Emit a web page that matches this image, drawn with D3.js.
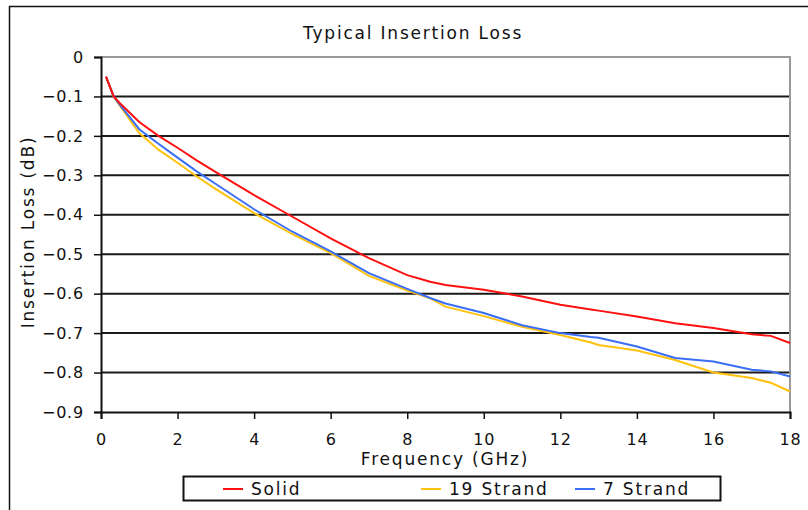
<!DOCTYPE html>
<html>
<head>
<meta charset="utf-8">
<script src="https://cdn.jsdelivr.net/npm/d3@7"></script>
<style>
  body { margin: 0; background: #fff; }
  svg text { font-family: "DejaVu Sans", Verdana, sans-serif; fill: #111; letter-spacing: 1.8px; }
  svg .tick text { letter-spacing: 0.8px; }
</style>
</head>
<body>
<div id="chart"></div>
<script>
// frequencies (GHz) the curves were read at
var freq = [0.13, 0.33, 0.5, 1, 1.5, 2, 2.5, 3, 4, 5, 6, 7, 8, 8.6, 9, 10, 11, 12, 12.8, 13, 14, 15, 16, 17, 17.5, 18];

// insertion loss (dB) per cable type
var solid    = [-0.05, -0.1, -0.118, -0.165, -0.2, -0.23, -0.262, -0.292, -0.35, -0.405, -0.46, -0.51, -0.553, -0.57, -0.578, -0.59, -0.607, -0.628, -0.64, -0.643, -0.658, -0.675, -0.687, -0.703, -0.707, -0.725];
var strand19 = [-0.05, -0.1, -0.125, -0.193, -0.235, -0.268, -0.303, -0.335, -0.396, -0.449, -0.497, -0.555, -0.592, -0.612, -0.633, -0.657, -0.684, -0.705, -0.724, -0.73, -0.744, -0.768, -0.8, -0.814, -0.826, -0.848];
var strand7  = [-0.05, -0.1, -0.122, -0.183, -0.22, -0.255, -0.29, -0.322, -0.386, -0.443, -0.493, -0.548, -0.588, -0.611, -0.625, -0.649, -0.68, -0.70, -0.71, -0.712, -0.734, -0.763, -0.772, -0.793, -0.797, -0.81];

var seriesNames = ["Solid", "19 Strand", "7 Strand"];
var seriesColors = ["#ff1010", "#ffc20e", "#3a6ef5"];
var xTicks = [0, 2, 4, 6, 8, 10, 12, 14, 16, 18];
var yTicks = [0, -0.1, -0.2, -0.3, -0.4, -0.5, -0.6, -0.7, -0.8, -0.9];

var W = 808, H = 510;
var margin = { top: 57, right: 18, bottom: 98, left: 101 },
    width = W - margin.left - margin.right,
    height = H - margin.top - margin.bottom;

var svg = d3.select("#chart").append("svg")
    .attr("width", W)
    .attr("height", H);

// outer frame (only top and left edges show)
svg.append("path")
    .attr("d", "M9.5," + H + " V6.5 H" + W)
    .attr("fill", "none")
    .attr("stroke", "#111")
    .attr("stroke-width", 1.5);

var x = d3.scaleLinear().domain([0, 18]).range([0, width]);
var y = d3.scaleLinear().domain([-0.9, 0]).range([height, 0]);

var g = svg.append("g")
    .attr("transform", "translate(" + margin.left + "," + margin.top + ")");

// gridlines
g.selectAll(".grid")
    .data(yTicks.filter(function (d) { return d !== 0 && d !== -0.9; }))
    .enter().append("line")
    .attr("x1", 0)
    .attr("x2", width)
    .attr("y1", function (d) { return y(d); })
    .attr("y2", function (d) { return y(d); })
    .attr("stroke", "#1a1a1a")
    .attr("stroke-width", 2);

// top and right plot border in gray
g.append("path")
    .attr("d", "M0," + y(0) + " H" + width + " V" + height)
    .attr("fill", "none")
    .attr("stroke", "#999")
    .attr("stroke-width", 2);

// y axis
var yAxis = g.append("g")
    .call(d3.axisLeft(y).tickValues(yTicks).tickSize(7).tickPadding(10)
        .tickFormat(function (d) { return d === 0 ? "0" : d3.format(".1f")(d); }));
yAxis.select(".domain").attr("stroke", "#111").attr("stroke-width", 2);
yAxis.selectAll(".tick line").attr("stroke", "#111").attr("stroke-width", 1.5);
yAxis.selectAll("text").style("font-size", "16px").attr("fill", "#111");

// x axis
var xAxis = g.append("g")
    .attr("transform", "translate(0," + height + ")")
    .call(d3.axisBottom(x).tickValues(xTicks).tickSize(7).tickPadding(15));
xAxis.select(".domain").attr("stroke", "#111").attr("stroke-width", 2);
xAxis.selectAll(".tick line").attr("stroke", "#111").attr("stroke-width", 1.5);
xAxis.selectAll("text").style("font-size", "16px").attr("fill", "#111");

// series lines
var table = [solid, strand19, strand7].map(function (vals, i) {
    return {
        name: seriesNames[i],
        color: seriesColors[i],
        values: vals.map(function (v, j) { return { f: freq[j], v: v }; })
    };
});

var line = d3.line()
    .x(function (d) { return x(d.f); })
    .y(function (d) { return y(d.v); });

// draw yellow first, then blue, then red on top like the picture
[1, 2, 0].forEach(function (i) {
    g.append("path")
        .datum(table[i].values)
        .attr("fill", "none")
        .attr("stroke", table[i].color)
        .attr("stroke-width", 2)
        .attr("d", line);
});

// title
svg.append("text")
    .attr("x", 413)
    .attr("y", 39)
    .attr("text-anchor", "middle")
    .style("font-size", "17px")
    .text("Typical Insertion Loss");

// axis titles
svg.append("text")
    .attr("x", 445)
    .attr("y", 465)
    .attr("text-anchor", "middle")
    .style("font-size", "17px")
    .text("Frequency (GHz)");

svg.append("text")
    .attr("transform", "translate(34,232) rotate(-90)")
    .attr("text-anchor", "middle")
    .style("font-size", "17px")
    .text("Insertion Loss (dB)");

// legend
var legend = svg.append("g");
legend.append("rect")
    .attr("x", 183.5)
    .attr("y", 476.5)
    .attr("width", 537)
    .attr("height", 24)
    .attr("fill", "#fff")
    .attr("stroke", "#111")
    .attr("stroke-width", 2);

var legendX = [223, 421, 575];
table.forEach(function (s, i) {
    legend.append("line")
        .attr("x1", legendX[i])
        .attr("x2", legendX[i] + 20)
        .attr("y1", 489)
        .attr("y2", 489)
        .attr("stroke", s.color)
        .attr("stroke-width", 2);
    legend.append("text")
        .attr("x", legendX[i] + 28)
        .attr("y", 495)
        .style("font-size", "17px")
        .text(s.name);
});
</script>
</body>
</html>
